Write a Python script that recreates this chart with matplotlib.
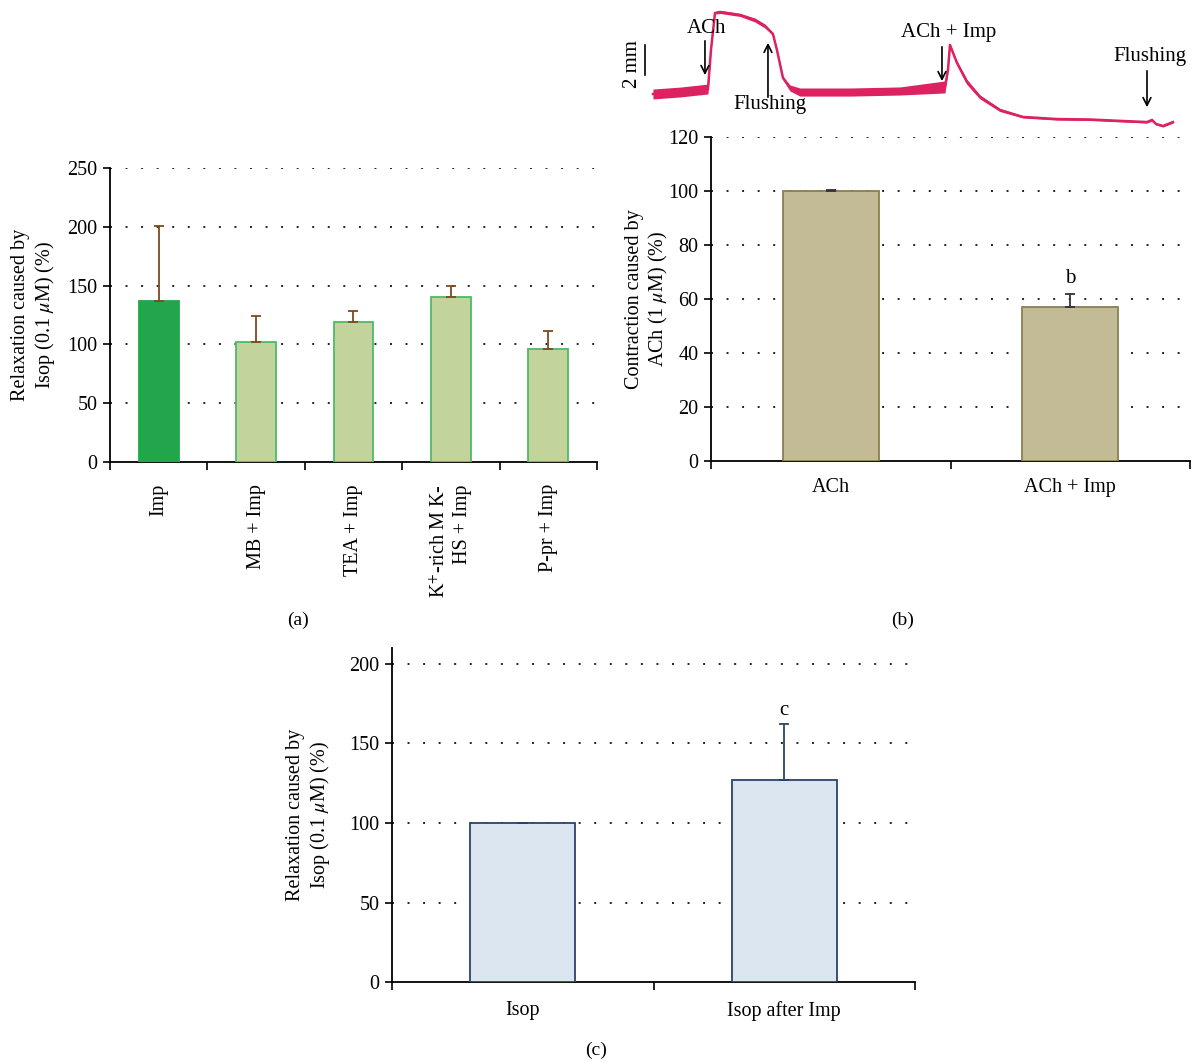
import matplotlib
matplotlib.use("Agg")
import matplotlib.pyplot as plt
import numpy as np

plt.rcParams['font.family'] = ['Liberation Serif', 'DejaVu Serif']
plt.rcParams['mathtext.fontset'] = 'stix'
plt.rcParams['font.size'] = 14.5

# panel (a)
a_labels = ['Imp', 'MB + Imp', 'TEA + Imp', 'K$^{+}$-rich M K-\nHS + Imp', 'P-pr + Imp']
a_values = [137, 102, 119, 140, 96]
a_err = [64, 22, 9, 10, 15]

# panel (b)
b_labels = ['ACh', 'ACh + Imp']
b_values = [100, 57]
b_err = [0.3, 5]

# panel (c)
c_labels = ['Isop', 'Isop after Imp']
c_values = [100, 127]
c_err = [0.3, 35]

# recorded trace above panel (b): time (s), tension (mm), noise half-width (mm)
trace_t = [0, 13.5, 27.5, 29, 31, 33.5, 43.5, 51, 56, 58.5, 60, 62, 65, 68.5, 73.5,
           98.5, 123.5, 146, 147.5, 148.5, 152, 157, 163.5, 173.5, 185, 202, 218.5,
           235, 247, 249.5, 251.5, 255, 260]
trace_mm = [0.40, 0.53, 0.73, 3.33, 5.80, 5.87, 5.67, 5.33, 4.93, 4.60, 4.40, 3.33,
            1.47, 0.80, 0.53, 0.53, 0.60, 0.87, 2.00, 3.67, 2.47, 1.20, 0.20, -0.67,
            -1.13, -1.27, -1.30, -1.40, -1.47, -1.33, -1.60, -1.73, -1.47]
trace_noise = [0.33, 0.33, 0.33, 0.07, 0.07, 0.1, 0.1, 0.13, 0.13, 0.1, 0.07, 0.07,
               0.1, 0.2, 0.27, 0.27, 0.27, 0.4, 0.07, 0.07, 0.13, 0.17, 0.13, 0.1,
               0.07, 0.07, 0.07, 0.07, 0.07, 0.07, 0.07, 0.07, 0.07]

grid_ls = (0, (1, 7))


def bar_panel(ax, labels, values, err, width, face, edge, errcolor, ymax, step, top):
    x = np.arange(len(values))
    ax.bar(x, values, width, color=face, edgecolor=edge, linewidth=1.3, zorder=3)
    ax.errorbar(x, values, yerr=[np.zeros(len(err)), err], fmt='none',
                ecolor=errcolor, elinewidth=1.3, capsize=3.5, capthick=1.3, zorder=4)
    ax.set_xlim(-0.5, len(values) - 0.5)
    ax.set_ylim(0, top)
    ax.set_yticks(np.arange(0, ymax + 1, step))
    for v in np.arange(step, ymax + 1, step):
        ax.axhline(v, color='#222222', lw=1.4, ls=grid_ls, zorder=1)
    ax.set_xticks(np.arange(len(values) + 1) - 0.5)
    ax.set_xticklabels([])
    ax.tick_params(axis='x', which='major', length=6, width=1.2, direction='out')
    ax.tick_params(axis='y', length=5, width=1.2, direction='out', pad=4)
    for s in ['top', 'right']:
        ax.spines[s].set_visible(False)
    for s in ['left', 'bottom']:
        ax.spines[s].set_linewidth(1.3)
    return x


fig = plt.figure(figsize=(11.92, 10.62), dpi=100)

# (a)
ax1 = fig.add_axes([0.0923, 0.5650, 0.4085, 0.2768])
xa = bar_panel(ax1, a_labels, a_values, a_err, 0.41,
               ['#22a64b'] + ['#c2d49c'] * 4, ['#22a64b'] + ['#4cbb68'] * 4,
               '#7b4a1f', 250, 50, 250)
ax1.set_xticks(xa, minor=True)
ax1.set_xticklabels(a_labels, minor=True, rotation=90, va='top', ha='center',
                    multialignment='right')
ax1.tick_params(axis='x', which='minor', length=0, pad=16)
ax1.set_ylabel('Relaxation caused by\nIsop (0.1 $\\mu$M) (%)', linespacing=1.15)
ax1.yaxis.set_label_coords(-0.109, 0.5)

# (b)
ax2 = fig.add_axes([0.5965, 0.5659, 0.4018, 0.3051])
xb = bar_panel(ax2, b_labels, b_values, b_err, 0.4, '#c3bb96', '#8a7f52',
               '#333333', 120, 20, 120)
ax2.set_xticks(xb, minor=True)
ax2.set_xticklabels(b_labels, minor=True)
ax2.tick_params(axis='x', which='minor', length=0, pad=12)
ax2.set_ylabel('Contraction caused by\nACh (1 $\\mu$M) (%)', linespacing=1.15)
ax2.yaxis.set_label_coords(-0.086, 0.5)
ax2.text(1, 67.5, 'b', ha='center', va='center', fontsize=15)

# (c)
ax3 = fig.add_axes([0.3289, 0.0753, 0.4387, 0.3145])
xc = bar_panel(ax3, c_labels, c_values, c_err, 0.4, '#dbe6f1', '#2a4468',
               '#2a4468', 200, 50, 210)
ax3.set_xticks(xc, minor=True)
ax3.set_xticklabels(c_labels, minor=True)
ax3.tick_params(axis='x', which='minor', length=0, pad=14)
ax3.set_ylabel('Relaxation caused by\nIsop (0.1 $\\mu$M) (%)', linespacing=1.15)
ax3.yaxis.set_label_coords(-0.115, 0.5)
ax3.text(1, 171, 'c', ha='center', va='center', fontsize=15)

# trace
axt = fig.add_axes([0.5201, 0.8776, 0.4799, 0.1224])
t = np.array(trace_t)
mm = np.array(trace_mm)
nz = np.array(trace_noise)
axt.fill_between(t, mm - nz, mm + nz, color='#dc2260', lw=0)
axt.plot(t, mm, color='#dc2260', lw=1.8)
axt.set_xlim(-16.5, 269.5)
axt.set_ylim(-2.0, 6.667)
axt.axis('off')

arrow = dict(arrowstyle='->', lw=1.2, color='black', mutation_scale=14)
axt.annotate('', xy=(26, 1.47), xytext=(26, 4.13), arrowprops=arrow)
axt.text(27, 4.8, 'ACh', ha='center', va='center', fontsize=15)
axt.annotate('', xy=(57.5, 4.0), xytext=(57.5, 0.0), arrowprops=arrow)
axt.text(58.5, -0.27, 'Flushing', ha='center', va='center', fontsize=15)
axt.annotate('', xy=(144.5, 1.07), xytext=(144.5, 3.73), arrowprops=arrow)
axt.text(148, 4.53, 'ACh + Imp', ha='center', va='center', fontsize=15)
axt.annotate('', xy=(247, -0.67), xytext=(247, 2.13), arrowprops=arrow)
axt.text(248.5, 2.87, 'Flushing', ha='center', va='center', fontsize=15)
axt.plot([-4, -4], [1.67, 3.67], color='black', lw=1.2)
axt.text(-10, 2.4, '2 mm', rotation=90, ha='center', va='center', fontsize=15)

fig.text(298 / 1192, 1 - 620 / 1062, '(a)', ha='center', va='center', fontsize=14)
fig.text(903 / 1192, 1 - 620 / 1062, '(b)', ha='center', va='center', fontsize=14)
fig.text(596 / 1192, 1 - 1050 / 1062, '(c)', ha='center', va='center', fontsize=14)

fig.savefig('out.png', dpi=100)
